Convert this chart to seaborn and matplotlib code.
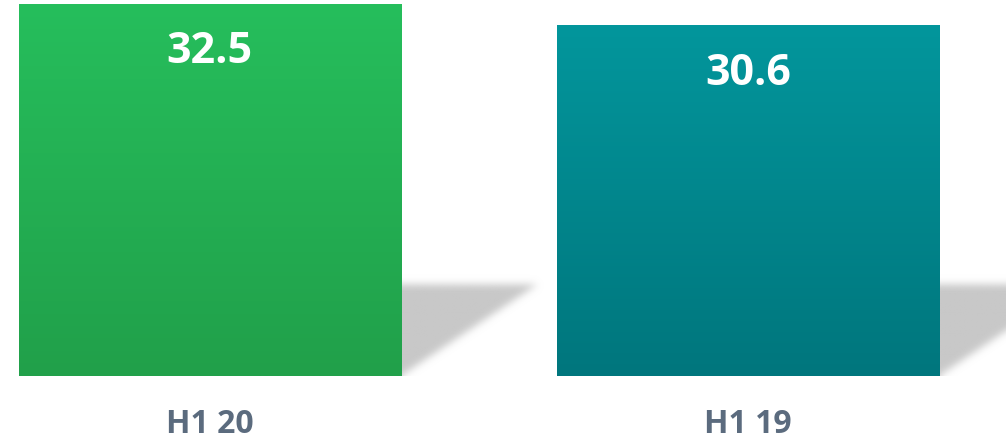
import numpy as np
import pandas as pd
import matplotlib
matplotlib.use("Agg")
import matplotlib.pyplot as plt
import seaborn as sns
from matplotlib.colors import LinearSegmentedColormap, to_rgb

# Half-year figures
periods = ["H1 20", "H1 19"]
values = [32.5, 30.6]

sns.set_theme(style="white")
plt.rcParams["font.family"] = ["Open Sans", "DejaVu Sans"]

fig = plt.figure(figsize=(10.06, 4.39), dpi=100)
ax = fig.add_axes([0, 62 / 439, 1, 377 / 439])

df = pd.DataFrame({"period": periods, "value": values})
sns.barplot(data=df, x="period", y="value", ax=ax, width=0.71,
            color="#25BB5A", saturation=1, zorder=3)

# top/bottom colours of each bar's vertical gradient
gradients = [("#26BE5C", "#21A04A"), ("#03969C", "#00767D")]
shadow_rgb = to_rgb("#C8C8C8")


def blur(a, sigma):
    r = int(3 * sigma)
    k = np.exp(-0.5 * (np.arange(-r, r + 1) / sigma) ** 2)
    k /= k.sum()
    a = np.apply_along_axis(lambda m: np.convolve(m, k, mode="same"), 0, a)
    a = np.apply_along_axis(lambda m: np.convolve(m, k, mode="same"), 1, a)
    return a


for patch, (top, bottom), v in zip(ax.patches, gradients, values):
    x0, w, h = patch.get_x(), patch.get_width(), patch.get_height()
    xr = x0 + w

    # gradient fill
    cmap = LinearSegmentedColormap.from_list("bar", [top, bottom])
    ax.imshow(np.linspace(0, 1, 256)[:, None], extent=(x0, xr, 0, h),
              aspect="auto", cmap=cmap, origin="upper", zorder=3,
              interpolation="bilinear")
    patch.set_visible(False)

    # soft floor shadow to the right of the bar
    sx0, sx1, sy0, sy1 = xr - 0.1, xr + 0.45, -1.5, 11.0
    nx, ny = 300, 150
    gx, gy = np.meshgrid(np.linspace(sx0, sx1, nx), np.linspace(sy0, sy1, ny))
    top_y, reach = 8.0, 0.253
    mask = ((gy <= top_y) & (gx <= xr + reach * np.clip(gy, 0, None) / top_y)).astype(float)
    mask = blur(mask, 4.0)
    rgba = np.zeros((ny, nx, 4))
    rgba[..., :3] = shadow_rgb
    rgba[..., 3] = mask
    ax.imshow(rgba, extent=(sx0, sx1, sy0, sy1), origin="lower",
              aspect="auto", zorder=1, interpolation="bilinear")

    # value label inside the bar
    ax.text(x0 + w / 2, h - 5.07, f"{v}", ha="center", va="baseline",
            color="white", fontsize=31, fontweight="bold", zorder=5)

ax.set_xlim(-0.390, 1.4796)
ax.set_ylim(0, 32.94)
ax.set_xlabel("")
ax.set_ylabel("")
ax.set_yticks([])
for s in ax.spines.values():
    s.set_visible(False)
ax.tick_params(axis="x", length=0, pad=22, labelsize=23, labelcolor="#5B6B7E")
for lbl in ax.get_xticklabels():
    lbl.set_fontweight("bold")

fig.savefig("out.png", dpi=100, facecolor="white")
